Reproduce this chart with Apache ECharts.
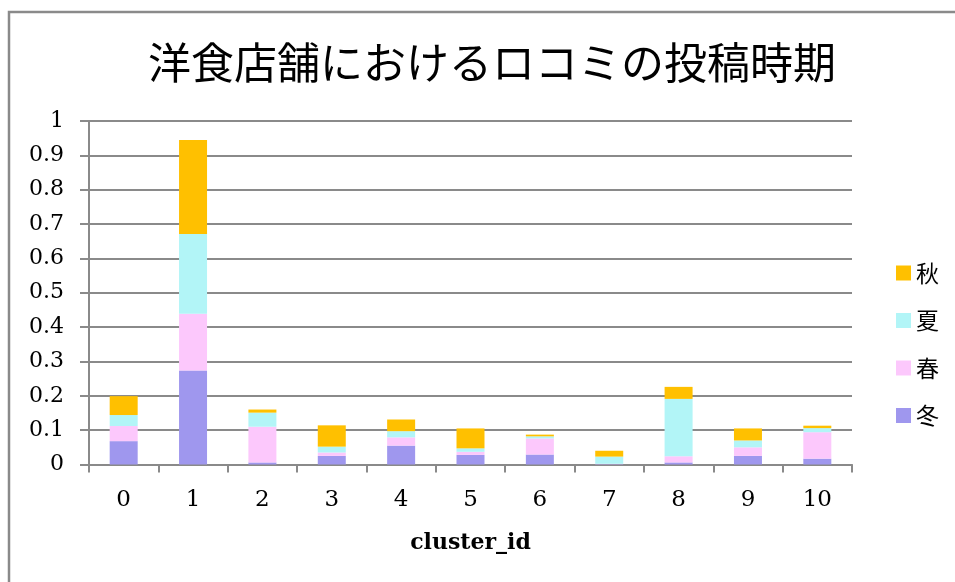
<!DOCTYPE html>
<html>
<head>
<meta charset="utf-8">
<script src="https://cdn.jsdelivr.net/npm/echarts@6/dist/echarts.min.js"></script>
<style>html,body{margin:0;padding:0;background:#fff;}#c{width:955px;height:582px;}</style>
</head>
<body>
<div id="c"></div>
<script>
const titleText = '洋食店舗におけるロコミの投稿時期';
const categories = ['0','1','2','3','4','5','6','7','8','9','10'];
const seriesNames = ['冬','春','夏','秋'];
const winter = [0.068, 0.274, 0.006, 0.025, 0.055, 0.028, 0.029, 0.001, 0.006, 0.025, 0.017];
const spring = [0.044, 0.165, 0.104, 0.010, 0.024, 0.009, 0.047, 0.001, 0.018, 0.025, 0.077];
const summer = [0.032, 0.232, 0.041, 0.017, 0.018, 0.010, 0.006, 0.021, 0.167, 0.020, 0.012];
const autumn = [0.055, 0.274, 0.009, 0.062, 0.034, 0.058, 0.005, 0.017, 0.035, 0.035, 0.007];
const xName = 'cluster_id';

const colors = ['#9f97ee', '#fcc8fc', '#b2f5f7', '#ffc000'];
const values = [winter, spring, summer, autumn];
const serif = '"DejaVu Serif", "Liberation Serif", serif';
const cjk = '"Noto Sans CJK JP", sans-serif';

const chart = echarts.init(document.getElementById('c'), null, {renderer: 'canvas'});
chart.setOption({
  animation: false,
  backgroundColor: '#fff',
  title: {
    text: titleText,
    left: 487,
    top: 36,
    textAlign: 'center',
    textStyle: {fontFamily: cjk, fontSize: 43, fontWeight: 'normal', color: '#000'}
  },
  graphic: [{
    type: 'rect', silent: true, z: -1,
    shape: {x: 9, y: 12, width: 1000, height: 1000},
    style: {fill: 'none', stroke: '#8a8a8a', lineWidth: 2.5}
  }],
  legend: {
    orient: 'vertical',
    left: 891,
    top: 256,
    data: ['秋','夏','春','冬'],
    icon: 'rect',
    itemWidth: 15,
    itemHeight: 15,
    itemGap: 23.5,
    textStyle: {fontFamily: cjk, fontSize: 23, lineHeight: 24, color: '#000'}
  },
  grid: {left: 89, right: 103, top: 121, bottom: 117.5, containLabel: false},
  xAxis: {
    type: 'category',
    data: categories,
    name: xName,
    nameLocation: 'middle',
    nameGap: 68,
    nameTextStyle: {fontFamily: serif, fontSize: 22, fontWeight: 'bold', color: '#000'},
    axisLine: {show: true, lineStyle: {color: '#8a8a8a', width: 2}},
    axisTick: {show: true, length: 8, lineStyle: {color: '#8a8a8a', width: 2}},
    axisLabel: {fontFamily: serif, fontSize: 23, color: '#000', margin: 24}
  },
  yAxis: {
    type: 'value',
    min: 0, max: 1, interval: 0.1,
    axisLine: {show: true, lineStyle: {color: '#8a8a8a', width: 2}},
    axisTick: {show: true, length: 9, lineStyle: {color: '#8a8a8a', width: 2}},
    splitLine: {show: true, lineStyle: {color: '#8a8a8a', width: 2}},
    axisLabel: {fontFamily: serif, fontSize: 22, color: '#000', margin: 25,
      formatter: v => String(Math.round(v * 10) / 10)}
  },
  series: seriesNames.map((n, i) => ({
    name: n,
    type: 'bar',
    stack: 'total',
    barWidth: 28,
    itemStyle: {color: colors[i]},
    data: values[i]
  }))
});
</script>
</body>
</html>
